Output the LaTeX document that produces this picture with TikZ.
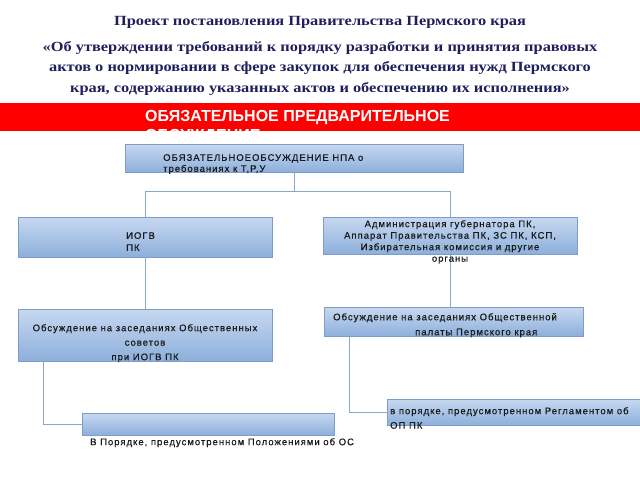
\documentclass[tikz,border=0pt]{standalone}
\usepackage{fontspec}
\setmainfont{Liberation Serif}
\setsansfont{Liberation Sans}
\newfontfamily\titlefont[FakeStretch=1.17]{Liberation Serif}
\newfontfamily\boxfont[LetterSpace=10.5,FakeBold=0.6]{Liberation Sans}
\usetikzlibrary{positioning}

\definecolor{titleblue}{HTML}{1F1F5C}
\definecolor{barred}{HTML}{FF0000}
\definecolor{boxtop}{HTML}{C6D8F0}
\definecolor{boxbottom}{HTML}{8DAFDB}
\definecolor{boxline}{HTML}{7F9CC6}
\definecolor{wirecol}{HTML}{8AA6CC}
\definecolor{boxtext}{HTML}{1A1A1A}

\begin{document}
\begin{tikzpicture}[x=1pt, y=-1pt,
    blok/.style={draw=boxline, line width=0.7pt, top color=boxtop, bottom color=boxbottom,
                 inner sep=0pt, anchor=north west},
    txt/.style={font=\boxfont\fontsize{9.5}{11}\selectfont, text=boxtext, inner sep=0pt,
                align=left, anchor=north west},
    wire/.style={draw=wirecol, line width=0.8pt}]
    \fill[white] (0,0) rectangle (640,480);
    \useasboundingbox (0,0) rectangle (640,480);

    % Title
    \node[font=\titlefont\bfseries\fontsize{14}{20.5}\selectfont, text=titleblue, align=center,
          anchor=north, inner sep=0pt] (title) at (320,16.5)
        {Проект постановления Правительства Пермского края\\[5pt]
         «Об утверждении требований к порядку разработки и принятия  правовых\\
         актов о нормировании в сфере закупок для  обеспечения нужд Пермского\\
         края, содержанию указанных  актов и обеспечению их исполнения»};

    % Red bar
    \fill[barred] (0,103) rectangle (640,131);
    \begin{scope}
        \clip (0,103) rectangle (640,131);
        \node[font=\sffamily\bfseries\fontsize{16}{19.5}\selectfont, text=white, align=left,
              anchor=north west, inner sep=0pt] (bar) at (145,110)
            {ОБЯЗАТЕЛЬНОЕ ПРЕДВАРИТЕЛЬНОЕ\\ОБСУЖДЕНИЕ};
    \end{scope}

    % Boxes
    \node[blok, minimum width=338pt, minimum height=28pt] (npa) at (125,144) {};
    \node[blok, minimum width=254pt, minimum height=40pt] (iogv) at (18,217) {};
    \node[blok, minimum width=254pt, minimum height=37pt] (adm) at (323,217) {};
    \node[blok, minimum width=254pt, minimum height=52pt] (sovet) at (18,309) {};
    \node[blok, minimum width=259pt, minimum height=29pt] (palata) at (324,307) {};
    \node[blok, minimum width=252pt, minimum height=22pt] (polozh) at (82,413) {};
    \node[blok, minimum width=253pt, minimum height=26pt] (reglam) at (387,399) {};

    % Connectors
    \draw[wire] (npa.south) -- ++(0,19) coordinate (split);
    \draw[wire] (iogv.north) |- (split) -| (adm.north);
    \draw[wire] (iogv.south) -- (sovet.north);
    \draw[wire] (adm.south) -- (adm.south |- palata.north);
    \draw[wire] ([xshift=25pt]sovet.south west) |- (polozh.west);
    \draw[wire] ([xshift=25pt]palata.south west) |- (reglam.west);

    % Box texts
    \node[txt] (npatxt) at (163,154)
        {ОБЯЗАТЕЛЬНОЕОБСУЖДЕНИЕ НПА о\\требованиях к Т,Р,У};
    \node[txt, font=\boxfont\fontsize{9.5}{12}\selectfont] (iogvtxt) at (126,232) {ИОГВ\\ПК};
    \node[txt, align=center, anchor=north, font=\boxfont\fontsize{9.5}{11.5}\selectfont] (admtxt) at (450,220)
        {Администрация губернатора ПК,\\Аппарат  Правительства ПК, ЗС ПК, КСП,\\
         Избирательная  комиссия и другие\\органы};
    \node[txt, align=center, anchor=north, font=\boxfont\fontsize{9.5}{14.5}\selectfont] (sovettxt) at (145,324)
        {Обсуждение на заседаниях Общественных\\советов\\при ИОГВ ПК};
    \node[txt, font=\boxfont\fontsize{9.5}{15}\selectfont] (palatatxt) at (333,313)
        {Обсуждение на заседаниях Общественной\\\hspace*{82pt}палаты  Пермского края};
    \node[txt] (polozhtxt) at (90,438) {В Порядке, предусмотренном Положениями об ОС};
    \node[txt, font=\boxfont\fontsize{9.5}{14.5}\selectfont] (reglamtxt) at (390,407)
        {в порядке, предусмотренном Регламентом об\\ОП ПК};
\end{tikzpicture}
\end{document}
